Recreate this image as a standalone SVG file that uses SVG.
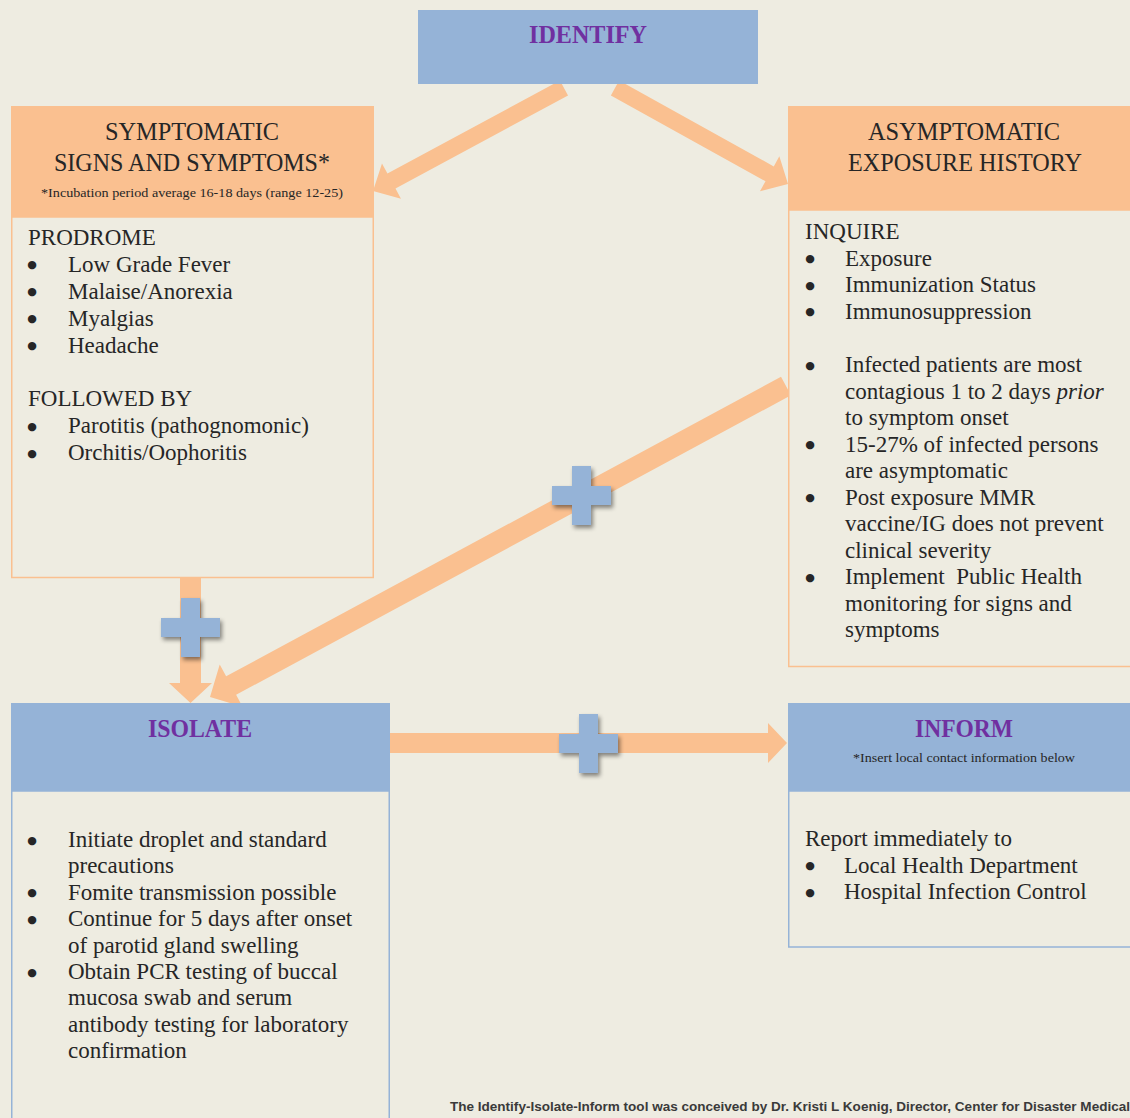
<svg xmlns="http://www.w3.org/2000/svg" width="1130" height="1118" viewBox="0 0 1130 1118">
<style>
.hdr{font-family:"Liberation Serif","Times New Roman",serif;font-size:25px;fill:#262626;text-anchor:middle}
.ttl{font-family:"Liberation Serif","Times New Roman",serif;font-size:25px;font-weight:bold;fill:#7030A0;text-anchor:middle}
.small{font-family:"Liberation Serif","Times New Roman",serif;font-size:12.5px;fill:#262626;text-anchor:middle}
.body{font-family:"Liberation Serif","Times New Roman",serif;font-size:23px;fill:#262626}
.bul{font-family:"DejaVu Sans",sans-serif;font-size:11px;fill:#262626;text-anchor:middle}
.foot{font-family:"Liberation Sans",Arial,sans-serif;font-size:12.5px;font-weight:bold;fill:#3a3a3a}
.blue{fill:#95B3D7}
.orange{fill:#FAC090}
.bodyO{fill:#EEECE1;stroke:#FAC090;stroke-width:1.5}
.bodyB{fill:#EEECE1;stroke:#95B3D7;stroke-width:1.5}
.arrow{fill:#FAC090}
</style>
<defs>
<filter id="shadow" x="-30%" y="-30%" width="170%" height="170%">
<feDropShadow dx="2" dy="3" stdDeviation="2" flood-color="#000" flood-opacity="0.45"/>
</filter>
<path id="plus" d="M-9.5,-29.5 h19 v20 h20 v19 h-20 v20 h-19 v-20 h-20 v-19 h20 z"/>
</defs>
<rect x="0" y="0" width="1130" height="1118" fill="#EEECE1"/>

<g id="connectors">
<polygon class="arrow" points="559.97,80.52 387.45,173.55 381.99,163.43 373,191 400.97,198.63 395.51,188.51 568.03,95.48"/>
<polygon class="arrow" points="619.12,80.57 773.76,166.38 779.34,156.32 788,184 759.94,191.30 765.52,181.24 610.88,95.43"/>
<polygon class="arrow" points="781.01,376.76 226.13,676.36 219.72,664.48 210,697 242.52,706.72 236.11,694.84 790.99,395.24"/>
<polygon class="arrow" points="180,572 201,572 201,683 212,683 190.5,703 169,683 180,683"/>
<polygon class="arrow" points="385,733 768,733 768,723 787,743 768,763 768,753 385,753"/>
</g>

<g id="identify">
<rect class="blue" x="418" y="10" width="340" height="74"/>
<text class="ttl" x="588" y="43" textLength="118" lengthAdjust="spacingAndGlyphs">IDENTIFY</text>
</g>

<g id="symptomatic">
<rect class="bodyO" x="11.75" y="217" width="361.5" height="360.5"/>
<rect class="orange" x="11" y="106" width="363" height="111"/>
<text class="hdr" x="192" y="139.5" textLength="174" lengthAdjust="spacingAndGlyphs">SYMPTOMATIC</text>
<text class="hdr" x="192" y="171" textLength="276" lengthAdjust="spacingAndGlyphs">SIGNS AND SYMPTOMS*</text>
<text class="small" x="192" y="197" textLength="302" lengthAdjust="spacingAndGlyphs">*Incubation period average 16-18 days (range 12-25)</text>
<text class="body" x="28" y="245">PRODROME</text>
<text class="bul" x="32" y="268.4">●</text><text class="body" x="68" y="271.9">Low Grade Fever</text>
<text class="bul" x="32" y="295.3">●</text><text class="body" x="68" y="298.8">Malaise/Anorexia</text>
<text class="bul" x="32" y="322.2">●</text><text class="body" x="68" y="325.7">Myalgias</text>
<text class="bul" x="32" y="349.1">●</text><text class="body" x="68" y="352.6">Headache</text>
<text class="body" x="28" y="406.4">FOLLOWED BY</text>
<text class="bul" x="32" y="429.8">●</text><text class="body" x="68" y="433.3">Parotitis (pathognomonic)</text>
<text class="bul" x="32" y="456.7">●</text><text class="body" x="68" y="460.2">Orchitis/Oophoritis</text>
</g>

<g id="asymptomatic">
<rect class="bodyO" x="788.75" y="210" width="360" height="456.5"/>
<rect class="orange" x="788" y="106" width="350" height="104"/>
<text class="hdr" x="964" y="139.5" textLength="192" lengthAdjust="spacingAndGlyphs">ASYMPTOMATIC</text>
<text class="hdr" x="965" y="171" textLength="234" lengthAdjust="spacingAndGlyphs">EXPOSURE HISTORY</text>
<text class="body" x="805" y="239">INQUIRE</text>
<text class="bul" x="810" y="262">●</text><text class="body" x="845" y="265.5">Exposure</text>
<text class="bul" x="810" y="288.5">●</text><text class="body" x="845" y="292">Immunization Status</text>
<text class="bul" x="810" y="315">●</text><text class="body" x="845" y="318.5">Immunosuppression</text>
<text class="bul" x="810" y="368.5">●</text><text class="body" x="845" y="372">Infected patients are most</text>
<text class="body" x="845" y="398.5">contagious 1 to 2 days <tspan font-style="italic">prior</tspan></text>
<text class="body" x="845" y="425">to symptom onset</text>
<text class="bul" x="810" y="448">●</text><text class="body" x="845" y="451.5">15-27% of infected persons</text>
<text class="body" x="845" y="478">are asymptomatic</text>
<text class="bul" x="810" y="501">●</text><text class="body" x="845" y="504.5">Post exposure MMR</text>
<text class="body" x="845" y="531">vaccine/IG does not prevent</text>
<text class="body" x="845" y="557.5">clinical severity</text>
<text class="bul" x="810" y="580.5">●</text><text class="body" x="845" y="584" xml:space="preserve">Implement  Public Health</text>
<text class="body" x="845" y="610.5">monitoring for signs and</text>
<text class="body" x="845" y="637">symptoms</text>
</g>

<g id="isolate">
<rect class="bodyB" x="11.75" y="791" width="377.5" height="340"/>
<rect class="blue" x="11" y="703" width="379" height="88"/>
<text class="ttl" x="200" y="737" textLength="104" lengthAdjust="spacingAndGlyphs">ISOLATE</text>
<text class="bul" x="32" y="843.5">●</text><text class="body" x="68" y="847">Initiate droplet and standard</text>
<text class="body" x="68" y="873.4">precautions</text>
<text class="bul" x="32" y="896.3">●</text><text class="body" x="68" y="899.8">Fomite transmission possible</text>
<text class="bul" x="32" y="922.7">●</text><text class="body" x="68" y="926.2">Continue for 5 days after onset</text>
<text class="body" x="68" y="952.6">of parotid gland swelling</text>
<text class="bul" x="32" y="975.5">●</text><text class="body" x="68" y="979">Obtain PCR testing of buccal</text>
<text class="body" x="68" y="1005.4">mucosa swab and serum</text>
<text class="body" x="68" y="1031.8">antibody testing for laboratory</text>
<text class="body" x="68" y="1058.2">confirmation</text>
</g>

<g id="inform">
<rect class="bodyB" x="788.75" y="791" width="360" height="156"/>
<rect class="blue" x="788" y="703" width="350" height="88"/>
<text class="ttl" x="964" y="737" textLength="98" lengthAdjust="spacingAndGlyphs">INFORM</text>
<text class="small" x="964" y="762" textLength="222" lengthAdjust="spacingAndGlyphs">*Insert local contact information below</text>
<text class="body" x="805" y="846">Report immediately to</text>
<text class="bul" x="810" y="869">●</text><text class="body" x="844" y="872.5">Local Health Department</text>
<text class="bul" x="810" y="895.5">●</text><text class="body" x="844" y="899">Hospital Infection Control</text>
</g>

<g id="plus-signs" class="blue" filter="url(#shadow)">
<use href="#plus" x="190.5" y="627.5"/>
<use href="#plus" x="588.5" y="743.5"/>
<use href="#plus" x="581.5" y="495.5"/>
</g>

<g id="footer">
<text class="foot" x="450" y="1111" textLength="680" lengthAdjust="spacingAndGlyphs">The Identify-Isolate-Inform tool was conceived by Dr. Kristi L Koenig, Director, Center for Disaster Medical</text>
</g>
</svg>
